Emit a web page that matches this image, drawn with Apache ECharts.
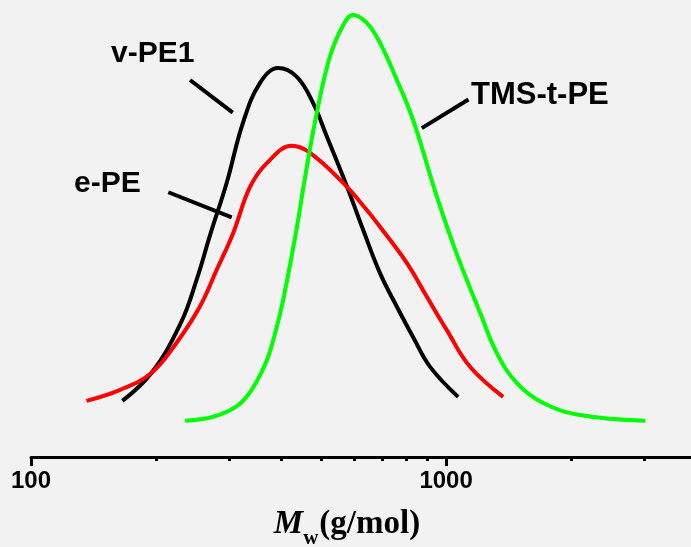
<!DOCTYPE html>
<html>
<head>
<meta charset="utf-8">
<script src="https://cdn.jsdelivr.net/npm/echarts@6/dist/echarts.min.js"></script>
<style>
html,body{margin:0;padding:0;background:#f2f2f2;}
#chart{width:691px;height:547px;}
</style>
</head>
<body>
<div id="chart"></div>
<script>
// Molecular weight (g/mol) and normalized intensity
const vPE1_M = [166, 195, 229, 251, 270, 296, 324, 356, 394, 437, 478, 516, 577, 631, 693, 761, 833, 915, 1069];
const vPE1_I = [0.127, 0.190, 0.301, 0.403, 0.502, 0.620, 0.756, 0.846, 0.880, 0.860, 0.801, 0.725, 0.612, 0.514, 0.416, 0.340, 0.271, 0.204, 0.136];

const ePE_M = [136, 164, 195, 224, 255, 280, 307, 337, 370, 425, 470, 565, 644, 693, 804, 898, 1004, 1142, 1372];
const ePE_I = [0.127, 0.152, 0.190, 0.258, 0.340, 0.423, 0.507, 0.611, 0.665, 0.704, 0.688, 0.620, 0.559, 0.521, 0.439, 0.363, 0.287, 0.204, 0.136];

const tms_M = [235, 275, 313, 340, 370, 391, 405, 433, 462, 488, 525, 565, 597, 644, 693, 761, 833, 950, 1061, 1208, 1325, 1481, 1713, 2103, 3017];
const tms_I = [0.082, 0.091, 0.115, 0.152, 0.219, 0.295, 0.355, 0.498, 0.657, 0.778, 0.906, 0.977, 1.000, 0.982, 0.937, 0.853, 0.762, 0.589, 0.459, 0.326, 0.235, 0.167, 0.122, 0.095, 0.082];

const majorTicks = [100, 1000];
const minorTicks = [200, 300, 400, 500, 600, 700, 800, 900, 2000, 3000];

// leader lines from labels to curves: [M, I] endpoints
const leaderV = [[241.6, 0.853], [306.2, 0.779]];
const leaderE = [[214.2, 0.599], [304.5, 0.542]];
const leaderT = [[873.8, 0.744], [1132, 0.809]];

const zip = (a, b) => a.map((v, i) => [v, b[i]]);

const chart = echarts.init(document.getElementById('chart'));
const xMin = 100, xMax = 3890;
const leaderStyle = { color: '#000', width: 4, type: 'solid' };
function leader(pts) {
  return [[{ coord: pts[0], symbol: 'none' }, { coord: pts[1], symbol: 'none' }]];
}
chart.setOption({
  backgroundColor: '#f2f2f2',
  animation: false,
  grid: { left: 31, right: 0, top: 15, bottom: 90, containLabel: false, outerBoundsMode: 'none' },
  xAxis: [
    {
      type: 'log', logBase: 10, min: xMin, max: xMax, position: 'bottom',
      axisLine: { show: true, lineStyle: { color: '#000', width: 3 } },
      axisTick: { show: true, customValues: majorTicks, length: 9, lineStyle: { color: '#000', width: 3 } },
      axisLabel: { show: true, customValues: majorTicks, margin: 12, color: '#000',
        fontSize: 24, fontWeight: 'bold', fontFamily: 'Liberation Sans',
        formatter: function (v) { return String(Math.round(v)); } },
      splitLine: { show: false },
      minorTick: { show: false },
      name: '{m|M}{w|w}{g|(g/mol)}',
      nameLocation: 'middle',
      nameGap: 51,
      nameTextStyle: {
        padding: [0, 28, 0, 0],
        rich: {
          m: { fontFamily: 'Liberation Serif', fontStyle: 'italic', fontWeight: 'bold', fontSize: 33, color: '#000', lineHeight: 33, verticalAlign: 'top' },
          w: { fontFamily: 'Liberation Serif', fontWeight: 'bold', fontSize: 21, color: '#000', lineHeight: 21, verticalAlign: 'top', padding: [20, 1, 0, 0] },
          g: { fontFamily: 'Liberation Serif', fontWeight: 'bold', fontSize: 33, color: '#000', lineHeight: 33, verticalAlign: 'top' }
        }
      }
    },
    {
      type: 'log', logBase: 10, min: xMin, max: xMax, position: 'bottom',
      axisLine: { show: false },
      axisTick: { show: true, customValues: minorTicks, length: 4, lineStyle: { color: '#000', width: 3 } },
      axisLabel: { show: false },
      splitLine: { show: false }
    }
  ],
  yAxis: { type: 'value', min: 0, max: 1, show: false },
  series: [
    {
      name: 'v-PE1', type: 'line', smooth: 0.4, showSymbol: false,
      data: zip(vPE1_M, vPE1_I),
      lineStyle: { color: '#000000', width: 4 },
      markLine: { silent: true, symbol: 'none', label: { show: false }, lineStyle: leaderStyle, data: leader(leaderV) }
    },
    {
      name: 'e-PE', type: 'line', smooth: 0.4, showSymbol: false,
      data: zip(ePE_M, ePE_I),
      lineStyle: { color: '#ff0000', width: 4 },
      markLine: { silent: true, symbol: 'none', label: { show: false }, lineStyle: leaderStyle, data: leader(leaderE) }
    },
    {
      name: 'TMS-t-PE', type: 'line', smooth: 0.4, showSymbol: false,
      data: zip(tms_M, tms_I),
      lineStyle: { color: '#00ff00', width: 4 },
      markLine: { silent: true, symbol: 'none', label: { show: false }, lineStyle: leaderStyle, data: leader(leaderT) }
    }
  ],
  graphic: [
    { type: 'text', style: { text: 'v-PE1', x: 111, y: 54, verticalAlign: 'middle', font: 'bold 30px "Liberation Sans"', fill: '#000' } },
    { type: 'text', style: { text: 'e-PE', x: 74, y: 184, verticalAlign: 'middle', font: 'bold 30px "Liberation Sans"', fill: '#000' } },
    { type: 'text', style: { text: 'TMS-t-PE', x: 471, y: 95, verticalAlign: 'middle', font: 'bold 31px "Liberation Sans"', fill: '#000' } }
  ]
});
</script>
</body>
</html>
